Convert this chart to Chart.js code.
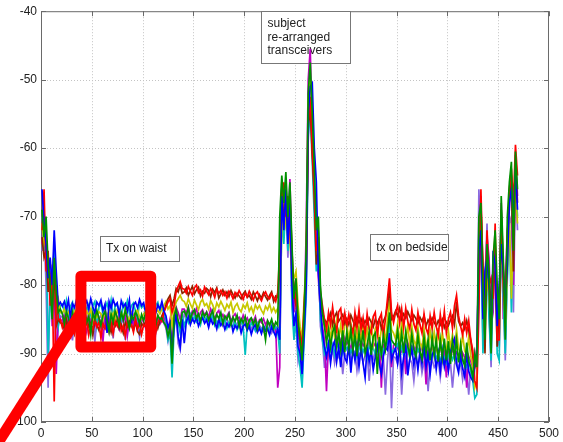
<!DOCTYPE html>
<html>
<head>
<meta charset="utf-8">
<script src="https://cdn.jsdelivr.net/npm/chart.js@4"></script>
<style>
  body { margin: 0; background: #fff; }
  canvas { display: block; }
</style>
</head>
<body>
<canvas id="chart" width="563" height="442"></canvas>
<script>
// Sample positions (one reading every 2 samples, 1..469)
const sampleX = Array.from({ length: 235 }, (_, i) => 1 + 2 * i);

// Axis ticks
const xTicks = [0, 50, 100, 150, 200, 250, 300, 350, 400, 450, 500];
const yTicks = [-100, -90, -80, -70, -60, -50, -40];

// RSSI traces (dBm)
const greenDb = [
  -69, -73, -70, -77, -80, -85, -76, -81, -84, -83.5,
  -84.2, -85.6, -83.9, -84.8, -86.1, -84.0, -85.3, -83.6, -84.9, -86.4,
  -84.3, -83.8, -85.5, -84.6, -87.2, -84.1, -85.0, -83.7, -84.8, -85.9,
  -84.4, -83.9, -85.2, -86.8, -84.2, -85.4, -83.8, -84.7, -85.8, -84.0,
  -85.1, -83.6, -84.9, -86.3, -84.5, -85.0, -83.9, -84.6, -85.7, -84.3,
  -85.2, -84.0, -84.8,
  -84.6, -85.3, -84.1, -85.8, -84.4, -85.0, -84.8, -85.5, -86.0, -87.5,
  -86.0, -91.5, -84.5, -83.5, -85.2, -86.0, -84.0,
  -83.8, -84.5, -83.3, -85.0, -84.1, -83.6, -84.8, -84.2, -85.3, -83.9,
  -84.6, -84.0, -85.1, -84.4, -83.7, -85.4, -84.3, -84.9, -84.0, -85.6,
  -84.5, -85.0, -84.2, -85.8, -84.7, -85.3, -84.4, -86.0, -84.9, -85.5,
  -84.6, -86.2, -85.1, -84.8, -85.7, -85.0, -86.4, -85.3, -84.9, -86.1,
  -88.0, -85.2, -85.8, -85.0, -86.3, -85.4, -85.9,
  -70, -64, -68, -63.5, -70, -65, -74,
  -82, -79, -85, -88, -91, -84,
  -75, -52, -47.5, -55, -63,
  -72, -70, -80, -84, -86,
  -88.4, -86.5, -89.0, -86.9, -86.0, -88.9, -87.0, -89.4, -86.6, -89.8,
  -86.8, -89.2, -86.5, -89.6, -87.2, -90.4, -87.0, -89.3, -86.6, -90.0,
  -88.8, -86.9, -90.2, -87.5, -87.0, -93.0, -87.6, -90.2, -87.3, -89.4,
  -87, -84, -88, -88.5,
  -88.8, -86.6, -89.6, -87.0, -89.9, -86.8, -89.0, -90.2, -87.2, -89.4,
  -90.4, -87.3, -89.7, -90.8, -87.6, -90.0, -87.9, -91.0, -87.6, -90.2,
  -87.9, -91.2, -88.0, -90.6, -87.8, -91.0, -88.2, -91.5, -88.2, -90.6,
  -88.0, -91.3, -88.6, -90.9, -91.8, -88.4, -91.2, -92.0, -93.5, -90.0,
  -92, -70, -68, -80, -88, -74, -78, -90, -76, -72, -80,
  -85, -67, -76, -88, -70, -65, -62, -75, -60.5, -66
];

const blueDb = [
  -66, -71, -74, -79, -76, -80, -72, -78, -83, -82.5,
  -83.1, -82.4, -83.6, -82.2, -84.8, -82.7, -83.3, -82.1, -83.9, -82.6,
  -86.5, -82.9, -82.3, -83.5, -82.0, -83.2, -84.1, -82.5, -83.0, -82.2,
  -83.7, -82.8, -87.0, -82.4, -83.4, -82.1, -83.0, -82.6, -84.3, -82.3,
  -83.2, -82.7, -83.8, -82.2, -85.6, -82.9, -82.5, -83.3, -82.1, -83.0,
  -82.6, -84.0, -82.8,
  -82.7, -83.4, -82.3, -84.0, -82.9, -83.5, -82.4, -83.8, -84.5, -86.2,
  -85.5, -90.0, -86.0, -84.2, -87.5, -89.0, -85.0,
  -88.5, -85.3, -84.6, -85.8, -84.9, -85.5, -84.7, -86.0, -85.2, -84.8,
  -85.6, -85.1, -86.2, -84.9, -85.7, -85.3, -86.4, -85.0, -85.9, -85.4,
  -86.5, -85.6, -86.1, -85.3, -86.8, -85.9, -86.3, -85.5, -87.0, -86.0,
  -85.7, -86.6, -86.0, -87.2, -86.2, -85.8, -86.9, -86.3, -87.1, -86.0,
  -86.7, -86.4, -87.3, -86.1, -86.8, -87.5, -86.4,
  -88, -67, -72, -66, -74, -68, -80,
  -86, -84, -89, -90, -93, -87,
  -80, -55, -51, -50.5, -60,
  -65, -78, -83, -87, -89,
  -90.5, -88.6, -91.4, -89.0, -88.2, -91.2, -89.0, -92.0, -88.5, -90.6,
  -91.3, -88.7, -92.8, -89.2, -91.0, -88.8, -91.9, -89.1, -91.4, -93.5,
  -89.0, -91.2, -89.3, -92.4, -90.6, -88.9, -91.6, -93.0, -90.4, -89.1,
  -89.5, -87, -91, -90,
  -89.2, -91.4, -88.7, -92.8, -90.5, -88.9, -93.2, -90.8, -89.3, -91.7,
  -89.8, -92.4, -89.6, -91.5, -88.8, -92.0, -90.0, -93.0, -90.2, -89.5,
  -92.3, -90.0, -92.6, -89.6, -91.9, -90.2, -92.5, -89.8, -88.6, -87.8,
  -91.6, -92.8, -90.3, -92.2, -93.4, -90.0, -92.6, -93.5, -94.0, -91.0,
  -90, -75, -72, -85, -78, -76, -80, -88, -75, -77, -86,
  -80, -74, -78, -83, -77, -68, -66, -70, -63, -69
];

const redDb = [
  -72, -66, -78, -75, -83, -78, -97, -80, -85, -85,
  -86.2, -85.1, -87.4, -85.7, -86.0, -84.8, -86.9, -85.5, -88.0, -85.9,
  -85.2, -86.6, -85.0, -87.3, -85.8, -86.4, -84.9, -86.1, -85.4, -87.8,
  -85.6, -86.3, -85.1, -86.8, -85.5, -87.1, -85.3, -86.0, -84.8, -86.7,
  -85.9, -87.5, -85.2, -86.2, -85.7, -86.9, -85.0, -86.4, -85.6, -87.2,
  -85.8, -86.1, -85.4,
  -85.7, -86.5, -85.2, -86.9, -85.5, -84.9, -85.3, -84.0, -83.2, -82.5,
  -82.0, -84.0, -83.0, -81.0, -80.2, -79.5, -80.5,
  -80.6, -81.2, -80.2, -80.9, -81.5, -80.4, -80.0, -81.1, -80.7, -81.6,
  -80.3, -80.9, -81.4, -80.5, -81.0, -81.8, -80.6, -81.2, -80.8, -81.5,
  -81.0, -81.9, -80.9, -81.3, -82.0, -81.1, -81.6, -80.8, -81.4, -82.1,
  -81.2, -81.7, -80.9, -81.5, -82.2, -81.3, -81.0, -81.8, -82.3, -81.4,
  -81.0, -81.7, -82.0, -81.3, -81.8, -82.4, -81.1,
  -75, -68, -65, -70, -67, -72, -78,
  -80, -82, -86, -87, -89, -83,
  -78, -56, -52.5, -60, -66,
  -75, -73, -81, -83, -85,
  -86.5, -84.0, -85.8, -83.2, -85.5, -86.8, -83.9, -83.4, -86.2, -84.1,
  -86.0, -84.3, -85.9, -87.0, -84.0, -86.3, -83.6, -86.5, -84.8, -87.2,
  -84.2, -86.4, -87.0, -84.6, -84.0, -87.3, -85.0, -84.2, -87.4, -85.0,
  -82, -79, -84, -85.5,
  -84.0, -83.0, -85.6, -83.5, -86.2, -83.4, -85.3, -86.4, -83.6, -85.7,
  -86.6, -84.0, -85.8, -87.0, -84.2, -86.3, -87.2, -84.5, -86.4, -84.0,
  -86.0, -87.4, -84.3, -86.5, -83.8, -87.0, -85.0, -84.0, -86.3, -83.0,
  -81.5, -84.5, -86.0, -87.3, -85.0, -87.0, -85.2, -88.0, -89.5, -94.0,
  -95, -84, -66, -78, -86, -72, -80, -79, -82, -71, -88,
  -88, -70, -80, -85, -75, -66, -63, -68, -59.5, -64
];

const brownDb = [
  -73, -76, -75, -81, -79, -83, -78, -86, -85, -85.5,
  -85.6, -86.4, -85.0, -86.8, -85.3, -85.9, -87.1, -85.4, -86.2, -85.1,
  -86.5, -85.7, -85.0, -86.1, -85.5, -87.3, -85.2, -85.8, -86.6, -85.3,
  -85.9, -86.3, -85.1, -85.7, -86.9, -85.4, -86.0, -85.2, -86.4, -85.8,
  -87.0, -85.5, -86.1, -85.3, -85.9, -86.6, -85.4, -86.8, -87.2, -85.6,
  -86.0, -85.3, -85.8,
  -85.4, -86.1, -85.6, -85.0, -86.3, -85.2, -84.5, -83.8, -82.9, -82.0,
  -81.5, -83.0, -82.0, -80.5, -81.0, -80.0, -81.2,
  -81.0, -80.4, -81.5, -80.8, -80.2, -81.3, -80.7, -80.3, -81.6, -80.9,
  -81.2, -80.5, -80.8, -81.7, -80.6, -81.1, -80.4, -81.9, -81.3, -80.7,
  -81.5, -81.0, -81.7, -80.8, -81.4, -81.9, -81.2, -81.6, -82.0, -81.3,
  -80.9, -81.8, -81.5, -82.1, -81.0, -81.6, -82.3, -81.4, -81.9, -81.1,
  -81.7, -82.2, -81.5, -81.0, -82.4, -81.6, -81.8,
  -78, -65, -71, -67, -73, -67, -75,
  -81, -83, -86, -88, -90, -84,
  -79, -57, -54, -61, -67,
  -77, -75, -82, -84, -85,
  -85.5, -85.0, -84.1, -85.8, -84.6, -84.0, -85.3, -84.8, -84.3, -85.6,
  -84.9, -85.8, -84.4, -85.2, -85.9, -84.7, -85.5, -84.9, -86.0, -85.2,
  -85.7, -84.8, -85.4, -86.1, -85.0, -85.6, -84.9, -86.3, -85.3, -84.6,
  -83, -80.5, -85, -84.6,
  -83.8, -84.5, -83.4, -85.0, -84.2, -84.8, -83.9, -84.6, -85.2, -84.4,
  -84.9, -85.6, -84.7, -85.3, -84.5, -86.0, -85.1, -85.7, -84.8, -85.4,
  -86.0, -85.2, -85.8, -85.0, -86.2, -85.4, -85.9, -85.1, -84.5, -85.8,
  -82.5, -85.3, -86.0, -85.5, -86.4, -85.2, -86.6, -88.0, -90.5, -92.0,
  -91, -80, -69, -77, -90, -75, -79, -83, -80, -78, -89,
  -84, -69, -77, -84, -73, -67, -65, -78, -62, -68
];

const yellowDb = [
  -71, -74, -73, -78, -81, -77, -80, -83, -82, -84,
  -84.1, -83.5, -84.8, -83.9, -84.5, -85.2, -83.7, -84.3, -83.6, -85.0,
  -84.2, -84.9, -83.8, -84.4, -83.5, -85.3, -84.0, -84.7, -83.9, -84.2,
  -85.1, -83.6, -84.5, -83.8, -84.9, -84.1, -85.4, -83.7, -84.3, -84.0,
  -84.8, -83.5, -84.6, -85.2, -83.9, -84.4, -84.0, -83.6, -84.7, -85.0,
  -84.2, -83.8, -84.5,
  -84.3, -83.8, -84.6, -84.0, -83.7, -84.2, -83.5, -83.0, -82.4, -83.5,
  -83.0, -86.0, -83.5, -82.5, -82.0, -81.5, -82.2,
  -82.4, -83.1, -82.0, -82.8, -83.4, -82.2, -82.9, -83.6, -82.5, -82.1,
  -83.0, -82.7, -83.5, -82.3, -82.9, -83.8, -82.6, -83.2, -82.4, -83.0,
  -83.7, -82.8, -83.3, -82.5, -84.0, -83.1, -82.7, -83.5, -83.9, -82.9,
  -83.4, -82.6, -83.8, -83.2, -84.1, -82.9, -83.5, -83.0, -83.7, -84.2,
  -83.1, -83.6, -82.8, -83.9, -83.3, -84.0, -83.4,
  -85, -72, -67, -71, -69, -73, -79,
  -79, -78, -83, -86, -88, -82,
  -76, -53, -50, -57, -65,
  -76, -72, -82, -85, -86,
  -87.8, -85.6, -88.0, -85.4, -87.6, -85.2, -88.0, -85.8, -88.4, -85.9,
  -85.5, -88.1, -85.8, -88.5, -85.6, -87.9, -86.0, -88.3, -85.5, -88.8,
  -86.2, -88.2, -85.8, -88.6, -86.3, -85.9, -88.8, -86.4, -86.0, -88.4,
  -85, -82, -86.5, -87,
  -87.9, -85.6, -88.4, -85.3, -87.7, -88.3, -85.8, -88.8, -86.0, -88.1,
  -88.9, -86.2, -88.5, -89.2, -86.4, -88.7, -89.4, -86.6, -88.9, -86.8,
  -89.1, -86.3, -89.6, -86.9, -89.0, -89.7, -86.7, -89.2, -87.2, -89.5,
  -86.5, -89.3, -89.9, -87.2, -89.6, -90.2, -87.5, -90.4, -91.8, -95.0,
  -94, -76, -70, -81, -84, -79, -82, -87, -77, -73, -85,
  -87, -71, -79, -86, -78, -70, -82, -72, -66, -71
];

const cyanDb = [
  -70, -75, -72, -90, -82, -79, -75, -84, -86, -83,
  -82.8, -83.9, -82.3, -84.6, -83.1, -82.5, -85.2, -83.4, -82.7, -84.0,
  -83.3, -82.1, -83.8, -82.9, -84.4, -83.0, -82.4, -85.8, -83.2, -82.8,
  -84.1, -83.5, -82.6, -83.9, -82.2, -84.7, -83.1, -82.9, -83.6, -85.0,
  -82.7, -83.4, -82.3, -84.2, -83.0, -82.6, -83.8, -84.9, -82.5, -83.3,
  -82.9, -83.7, -83.0,
  -83.2, -82.6, -84.1, -83.0, -82.5, -83.7, -83.1, -84.2, -85.0, -88.0,
  -87.0, -93.5, -86.5, -84.0, -85.5, -87.0, -84.5,
  -86.0, -84.8, -85.5, -84.3, -85.1, -84.6, -85.4, -84.9, -85.8, -84.5,
  -85.2, -84.7, -85.6, -85.0, -84.4, -85.9, -85.3, -86.1, -84.8, -85.5,
  -85.1, -86.3, -85.4, -85.9, -86.0, -85.3, -86.5, -85.7, -85.2, -86.1,
  -90.2, -85.8, -86.4, -85.5, -86.0, -86.7, -85.6, -86.2, -86.8, -85.9,
  -86.4, -86.0, -86.9, -85.7, -86.5, -86.1, -86.6,
  -90, -70, -74, -68, -75, -70, -83,
  -88, -85, -90, -92, -95, -88,
  -82, -58, -55, -62, -70,
  -78, -76, -85, -88, -90,
  -89.0, -88.3, -89.6, -88.7, -90.2, -88.5, -89.3, -88.9, -90.0, -88.6,
  -89.4, -88.8, -89.9, -89.1, -88.4, -90.4, -89.2, -88.7, -89.8, -89.0,
  -90.6, -88.9, -89.5, -89.2, -90.1, -88.8, -89.6, -90.3, -89.4, -89.0,
  -88.5, -85, -90, -89.5,
  -89.2, -88.6, -89.8, -89.0, -90.3, -88.8, -89.5, -90.6, -89.1, -89.9,
  -90.4, -89.3, -90.0, -90.8, -89.6, -90.2, -91.0, -89.8, -90.5, -89.4,
  -90.7, -90.1, -91.2, -89.9, -90.6, -91.4, -90.3, -89.7, -90.9, -90.2,
  -91.1, -90.5, -91.6, -90.8, -91.3, -92.0, -91.0, -92.5, -94.0, -96.5,
  -96, -78, -73, -90, -82, -77, -85, -91, -79, -74, -90,
  -91, -72, -82, -90, -79, -72, -84, -73, -65, -70
];

const magentaDb = [
  -74, -69, -77, -80, -78, -86, -79, -93, -84, -85,
  -85.3, -84.2, -86.1, -85.0, -87.9, -84.6, -85.5, -84.9, -86.3, -85.1,
  -84.4, -85.8, -86.9, -84.7, -85.2, -84.3, -86.0, -85.4, -84.8, -85.9,
  -88.2, -84.5, -85.6, -84.9, -86.2, -85.0, -84.4, -85.7, -86.5, -84.8,
  -85.3, -84.6, -87.4, -85.1, -84.7, -85.9, -84.2, -86.1, -85.0, -84.6,
  -85.5, -86.3, -84.9,
  -85.1, -84.5, -86.0, -85.4, -84.8, -85.7, -85.2, -84.6, -85.8, -86.5,
  -85.0, -89.5, -84.0, -83.2, -84.0, -85.0, -83.5,
  -83.5, -84.1, -83.2, -84.6, -83.8, -84.3, -83.4, -84.9, -84.0, -83.6,
  -84.4, -83.9, -84.7, -83.5, -84.2, -85.0, -84.1, -83.7, -84.8, -84.3,
  -85.1, -84.5, -84.0, -85.3, -84.6, -84.2, -85.0, -84.7, -85.5, -84.4,
  -85.2, -84.8, -85.7, -84.9, -85.3, -84.6, -85.9, -85.1, -85.5, -84.9,
  -85.8, -85.2, -86.0, -85.4, -85.7, -86.1, -95.0,
  -92, -66, -70, -65, -72, -64.5, -76,
  -84, -81, -87, -89, -92, -85,
  -72, -50, -45.5, -58, -68,
  -74, -79, -84, -86, -88,
  -95.5, -88.4, -87.8, -89.0, -88.2, -87.5, -88.8, -88.0, -89.3, -87.7,
  -88.6, -88.1, -89.5, -87.9, -88.7, -88.3, -89.2, -88.0, -88.9, -88.4,
  -89.6, -88.2, -88.8, -89.0, -88.5, -89.3, -88.1, -95.0, -88.7, -89.1,
  -88, -84.5, -92, -88.8,
  -88.5, -89.2, -88.0, -89.6, -88.7, -93.0, -88.4, -89.3, -88.9, -89.8,
  -88.6, -89.5, -90.0, -88.8, -89.4, -94.5, -89.1, -89.7, -88.9, -90.2,
  -89.3, -89.8, -89.0, -90.4, -89.5, -93.5, -89.7, -90.1, -89.4, -90.5,
  -89.8, -90.3, -91.0, -89.9, -90.6, -95.0, -90.4, -91.2, -92.0, -90.0,
  -93, -72, -67, -83, -79, -73, -76, -86, -84, -75, -82,
  -83, -68, -85, -80, -72, -69, -64, -80, -61, -67
];

const purpleDb = [
  -75, -72, -80, -95, -77, -84, -73, -91, -86, -84.5,
  -84.7, -86.9, -84.1, -85.3, -84.4, -88.1, -84.8, -85.6, -84.2, -85.0,
  -87.4, -84.6, -85.2, -84.0, -85.8, -84.5, -88.3, -84.9, -85.1, -84.3,
  -85.6, -84.7, -86.2, -84.2, -85.0, -87.8, -84.6, -85.3, -84.1, -85.7,
  -84.8, -88.0, -84.4, -85.1, -84.7, -86.0, -84.3, -85.5, -87.6, -84.9,
  -85.2, -84.6, -85.9,
  -84.9, -85.5, -84.4, -87.0, -84.7, -85.3, -84.8, -85.6, -86.3, -88.2,
  -86.5, -88.0, -85.0, -84.5, -88.5, -89.5, -86.0,
  -84.2, -84.9, -84.0, -85.3, -84.5, -84.1, -85.0, -84.6, -85.5, -84.3,
  -85.0, -84.7, -85.8, -84.4, -85.2, -84.8, -85.6, -85.1, -84.6, -85.9,
  -85.3, -84.9, -86.0, -85.4, -85.0, -86.2, -85.6, -85.2, -86.4, -85.7,
  -85.3, -86.1, -85.8, -86.5, -85.5, -86.0, -86.7, -85.9, -86.3, -86.8,
  -86.0, -86.6, -86.2, -87.0, -86.4, -86.8, -87.2,
  -86, -69, -73, -66, -76, -69, -82,
  -87, -86, -91, -89, -94, -86,
  -81, -59, -53, -58, -64,
  -70, -74, -86, -88, -92,
  -92.0, -89.6, -90.8, -89.2, -91.4, -89.8, -90.5, -89.4, -93.0, -89.9,
  -90.6, -89.5, -91.0, -90.2, -89.7, -92.5, -90.1, -89.8, -91.3, -90.4,
  -89.9, -94.0, -90.3, -90.8, -89.6, -91.5, -90.2, -92.8, -90.6, -96.0,
  -91, -88, -98, -90.5,
  -90.6, -91.5, -90.2, -96.0, -91.0, -90.4, -92.3, -90.8, -91.4, -94.0,
  -90.9, -91.6, -90.5, -92.8, -91.2, -90.7, -95.5, -91.3, -90.9, -92.0,
  -91.5, -90.8, -93.5, -91.1, -91.7, -90.9, -92.4, -91.3, -95.0, -91.6,
  -91.0, -92.1, -91.5, -93.8, -91.8, -92.5, -96.0, -92.0, -93.0, -91.5,
  -92, -66, -74, -88, -80, -71, -83, -92, -78, -76, -84,
  -89, -73, -81, -91, -74, -71, -70, -84, -64, -72
];

// Text notes and the red highlight, in data units
const notes = [
  { lines: ['subject', 're-arranged', 'transceivers'], x0: 217, x1: 304.5, y0: -40, y1: -47.6 },
  { lines: ['Tx on waist'], x0: 58, x1: 135.5, y0: -72.8, y1: -76.5 },
  { lines: ['tx on bedside'], x0: 324, x1: 401, y0: -72.6, y1: -76.4 }
];
const highlight = { x0: 39.3, x1: 108, y0: -78.7, y1: -89.05 };
const pointer = { x0: -50, y0: -104.8, x1: 39.3, y1: -84 };

const series = [
  { data: greenDb, color: '#009000' },
  { data: blueDb, color: '#0000ff' },
  { data: redDb, color: '#ff0000' },
  { data: brownDb, color: '#8b2500' },
  { data: yellowDb, color: '#c8c800' },
  { data: cyanDb, color: '#00c0c0' },
  { data: magentaDb, color: '#c000c0' },
  { data: purpleDb, color: '#8a6ae0' }
];

const font = '12px "Liberation Sans", Arial, sans-serif';

// MATLAB-like frame: dotted grid, box, inward ticks, note boxes
const framePlugin = {
  id: 'frame',
  beforeDatasetsDraw(chart) {
    const { ctx, chartArea: a, scales: { x, y } } = chart;
    ctx.save();
    ctx.strokeStyle = '#c4c4c4';
    ctx.lineWidth = 1;
    ctx.setLineDash([1, 2]);
    xTicks.slice(1, -1).forEach(v => {
      const px = Math.round(x.getPixelForValue(v)) + 0.5;
      ctx.beginPath(); ctx.moveTo(px, a.top); ctx.lineTo(px, a.bottom); ctx.stroke();
    });
    yTicks.slice(1, -1).forEach(v => {
      const py = Math.round(y.getPixelForValue(v)) + 0.5;
      ctx.beginPath(); ctx.moveTo(a.left, py); ctx.lineTo(a.right, py); ctx.stroke();
    });
    ctx.setLineDash([]);
    ctx.strokeStyle = '#6a6a6a';
    ctx.strokeRect(a.left + 0.5, a.top + 0.5, a.right - a.left - 1, a.bottom - a.top - 1);
    xTicks.forEach(v => {
      const px = Math.round(x.getPixelForValue(v)) + 0.5;
      ctx.beginPath();
      ctx.moveTo(px, a.bottom); ctx.lineTo(px, a.bottom - 5);
      ctx.moveTo(px, a.top); ctx.lineTo(px, a.top + 5);
      ctx.stroke();
    });
    yTicks.forEach(v => {
      const py = Math.round(y.getPixelForValue(v)) + 0.5;
      ctx.beginPath();
      ctx.moveTo(a.left, py); ctx.lineTo(a.left + 5, py);
      ctx.moveTo(a.right, py); ctx.lineTo(a.right - 5, py);
      ctx.stroke();
    });

    ctx.font = font;
    ctx.textBaseline = 'middle';
    notes.forEach(n => {
      const l = x.getPixelForValue(n.x0), r = x.getPixelForValue(n.x1);
      const t = y.getPixelForValue(n.y0), b = y.getPixelForValue(n.y1);
      ctx.fillStyle = '#fff';
      ctx.fillRect(l, t, r - l, b - t);
      ctx.strokeStyle = '#777';
      ctx.strokeRect(Math.round(l) + 0.5, Math.round(t) + 0.5, Math.round(r - l), Math.round(b - t));
      ctx.fillStyle = '#222';
      const lh = 13.3;
      const mid = (t + b) / 2;
      n.lines.forEach((s, i) => {
        ctx.fillText(s, l + 6, mid + (i - (n.lines.length - 1) / 2) * lh);
      });
    });
    ctx.restore();
  },
  afterDraw(chart) {
    const { ctx, scales: { x, y } } = chart;
    ctx.save();
    ctx.strokeStyle = '#ff0000';
    ctx.lineWidth = 11;
    ctx.lineCap = 'butt';
    ctx.beginPath();
    ctx.moveTo(x.getPixelForValue(pointer.x0), y.getPixelForValue(pointer.y0));
    ctx.lineTo(x.getPixelForValue(pointer.x1), y.getPixelForValue(pointer.y1));
    ctx.stroke();
    ctx.lineJoin = 'round';
    const l = x.getPixelForValue(highlight.x0), r = x.getPixelForValue(highlight.x1);
    const t = y.getPixelForValue(highlight.y0), b = y.getPixelForValue(highlight.y1);
    ctx.strokeRect(l, t, r - l, b - t);
    ctx.restore();
  }
};

new Chart(document.getElementById('chart'), {
  type: 'line',
  data: {
    datasets: series.map(s => ({
      data: s.data.map((v, i) => ({ x: sampleX[i], y: v })),
      borderColor: s.color,
      borderWidth: 1.7,
      pointRadius: 0,
      tension: 0,
      fill: false
    }))
  },
  options: {
    responsive: false,
    animation: false,
    events: [],
    layout: { padding: { top: 11, right: 13, left: 0, bottom: 0 } },
    plugins: { legend: { display: false }, tooltip: { enabled: false } },
    scales: {
      x: {
        type: 'linear', min: 0, max: 500,
        afterFit: s => { s.height = 20; },
        afterBuildTicks: s => { s.ticks = xTicks.map(v => ({ value: v })); },
        grid: { display: false, drawTicks: false },
        border: { display: false },
        ticks: { font: { family: '"Liberation Sans", Arial, sans-serif', size: 12 }, color: '#222', padding: 4, maxRotation: 0, autoSkip: false }
      },
      y: {
        type: 'linear', min: -100, max: -40,
        afterFit: s => { s.width = 41; },
        afterBuildTicks: s => { s.ticks = yTicks.map(v => ({ value: v })); },
        grid: { display: false, drawTicks: false },
        border: { display: false },
        ticks: { font: { family: '"Liberation Sans", Arial, sans-serif', size: 12 }, color: '#222', padding: 4 }
      }
    }
  },
  plugins: [framePlugin]
});
</script>
</body>
</html>
